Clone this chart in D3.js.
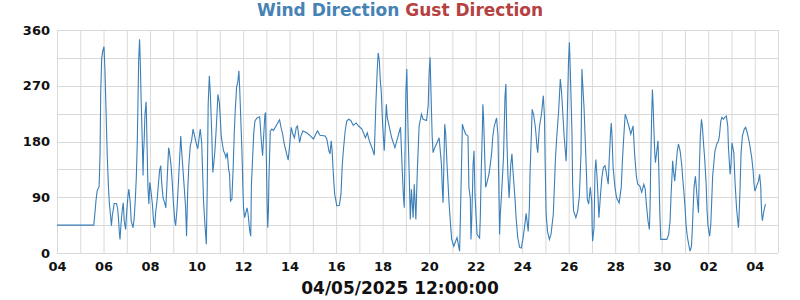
<!DOCTYPE html>
<html>
<head>
<meta charset="utf-8">
<script src="https://cdn.jsdelivr.net/npm/d3@7"></script>
<style>
  body { margin: 0; background: #fff; }
  text { font-family: "DejaVu Sans", sans-serif; font-weight: bold; }
</style>
</head>
<body>
<div id="chart"></div>
<script>
// time of each reading, in days after 04/04/2025 00:00
const dayOffset = [
  0.00, 1.58, 1.62, 1.68, 1.73, 1.81, 1.85, 1.88, 1.92, 1.96, 2.02, 2.06, 2.11, 2.16, 2.21, 2.25, 2.31, 2.34, 2.38, 2.44,
  2.46, 2.56, 2.61, 2.65, 2.68, 2.71, 2.75, 2.81, 2.85, 2.89, 2.95, 2.99, 3.05, 3.09, 3.15, 3.19, 3.27, 3.32, 3.37, 3.41,
  3.45, 3.48, 3.51, 3.55, 3.58, 3.62, 3.67, 3.70, 3.72, 3.75, 3.78, 3.83, 3.85, 3.88, 3.91, 3.95, 3.99, 4.04, 4.10, 4.15,
  4.20, 4.24, 4.30, 4.36, 4.41, 4.46, 4.50, 4.56, 4.63, 4.68, 4.74, 4.80, 4.84, 4.90, 4.96, 5.00, 5.06, 5.10, 5.16, 5.21,
  5.27, 5.32, 5.36, 5.42, 5.47, 5.53, 5.57, 5.62, 5.67, 5.73, 5.79, 5.85, 5.90, 5.96, 6.05, 6.16, 6.22, 6.26, 6.30, 6.35,
  6.38, 6.42, 6.46, 6.50, 6.55, 6.59, 6.65, 6.70, 6.75, 6.79, 6.85, 6.92, 6.98, 7.02, 7.06, 7.11, 7.16, 7.22, 7.26, 7.32,
  7.38, 7.42, 7.46, 7.52, 7.58, 7.62, 7.66, 7.72, 7.78, 7.82, 7.85, 7.89, 7.94, 7.97, 7.99, 8.02, 8.07, 8.12, 8.17, 8.21,
  8.28, 8.33, 8.36, 8.46, 8.51, 8.60, 8.71, 8.74, 8.77, 8.81, 8.84, 8.89, 8.94, 8.97, 9.03, 9.06, 9.09, 9.11, 9.17, 9.24,
  9.31, 9.46, 9.57, 9.63, 9.70, 9.77, 9.86, 9.94, 10.00, 10.07, 10.14, 10.21, 10.29, 10.34, 10.43, 10.49, 10.57, 10.74, 10.89, 11.03,
  11.13, 11.20, 11.31, 11.53, 11.60, 11.69, 11.74, 11.79, 11.83, 11.86, 11.90, 11.94, 12.03, 12.14, 12.21, 12.26, 12.31, 12.39, 12.46, 12.54,
  12.63, 12.74, 12.86, 12.97, 13.11, 13.26, 13.34, 13.43, 13.54, 13.64, 13.71, 13.77, 13.81, 13.86, 13.90, 13.94, 14.00, 14.07, 14.16, 14.20,
  14.29, 14.39, 14.53, 14.63, 14.77, 14.84, 14.89, 14.93, 15.00, 15.04, 15.10, 15.14, 15.19, 15.24, 15.31, 15.36, 15.43, 15.49, 15.57, 15.67,
  15.74, 15.89, 15.96, 16.00, 16.04, 16.13, 16.17, 16.24, 16.34, 16.43, 16.53, 16.57, 16.60, 16.67, 16.71, 16.77, 16.86, 16.93, 16.97, 17.06,
  17.14, 17.20, 17.31, 17.34, 17.40, 17.43, 17.49, 17.57, 17.67, 17.71, 17.77, 17.80, 17.83, 17.86, 17.89, 17.93, 17.97, 18.06, 18.17, 18.20,
  18.24, 18.29, 18.31, 18.34, 18.43, 18.49, 18.57, 18.63, 18.69, 18.74, 18.80, 18.90, 18.96, 18.99, 19.03, 19.06, 19.11, 19.20, 19.26, 19.30,
  19.34, 19.39, 19.44, 19.51, 19.56, 19.60, 19.69, 19.74, 19.81, 19.89, 19.96, 20.03, 20.10, 20.17, 20.26, 20.31, 20.34, 20.40, 20.43, 20.49,
  20.57, 20.64, 20.67, 20.74, 20.83, 20.91, 20.96, 20.99, 21.03, 21.09, 21.17, 21.24, 21.34, 21.43, 21.49, 21.57, 21.64, 21.69, 21.81, 21.89,
  21.91, 21.99, 22.03, 22.07, 22.14, 22.17, 22.21, 22.31, 22.39, 22.46, 22.53, 22.57, 22.60, 22.66, 22.74, 22.80, 22.86, 22.93, 22.99, 23.01,
  23.03, 23.09, 23.13, 23.17, 23.23, 23.30, 23.37, 23.43, 23.49, 23.56, 23.63, 23.70, 23.74, 23.80, 23.83, 23.86, 23.91, 23.99, 24.06, 24.17,
  24.26, 24.31, 24.37, 24.43, 24.50, 24.60, 24.67, 24.77, 24.84, 24.91, 24.97, 25.06, 25.14, 25.23, 25.29, 25.34, 25.41, 25.47, 25.50, 25.53,
  25.57, 25.60, 25.63, 25.66, 25.70, 25.73, 25.79, 25.84, 25.87, 25.92, 25.96, 26.22, 26.30, 26.36, 26.40, 26.45, 26.47, 26.50, 26.56, 26.62,
  26.67, 26.72, 26.79, 26.86, 26.90, 26.95, 26.99, 27.05, 27.10, 27.16, 27.22, 27.28, 27.32, 27.35, 27.39, 27.45, 27.51, 27.58, 27.62, 27.66,
  27.71, 27.75, 27.79, 27.85, 27.91, 27.95, 27.99, 28.06, 28.11, 28.15, 28.19, 28.25, 28.29, 28.37, 28.44, 28.48, 28.54, 28.59, 28.65, 28.71,
  28.78, 28.84, 28.87, 28.94, 28.98, 29.02, 29.10, 29.15, 29.22, 29.30, 29.32, 29.37, 29.41, 29.47, 29.55, 29.61, 29.68, 29.77, 29.87, 29.93,
  29.97, 30.01, 30.08, 30.16, 30.21, 30.26, 30.27, 30.30, 30.33, 30.37, 30.41, 30.46
];

// wind direction in degrees
const windDir = [
  45, 45, 60, 86, 101, 107, 158, 259, 313, 325, 333, 297, 228, 157, 108, 81, 57, 44, 61, 75,
  80, 80, 71, 52, 33, 22, 46, 71, 81, 52, 38, 63, 92, 103, 81, 52, 41, 57, 89, 122,
  176, 240, 310, 345, 310, 244, 176, 125, 160, 184, 222, 244, 216, 160, 106, 79, 114, 100, 79, 52,
  41, 65, 84, 111, 133, 141, 114, 89, 81, 73, 122, 170, 162, 143, 111, 84, 54, 44, 71, 106,
  151, 189, 165, 133, 106, 73, 27, 100, 143, 173, 182, 200, 192, 181, 168, 200, 178, 133, 84, 52,
  35, 14, 106, 240, 286, 259, 197, 130, 148, 165, 203, 256, 243, 219, 189, 176, 165, 160, 154, 162,
  135, 127, 84, 87, 143, 192, 227, 267, 278, 294, 270, 230, 176, 138, 106, 73, 57, 65, 73, 65,
  38, 27, 111, 194, 213, 218, 220, 208, 189, 170, 157, 192, 224, 227, 87, 41, 68, 116, 197, 200,
  198, 208, 215, 203, 192, 176, 162, 150, 173, 203, 192, 186, 203, 205, 178, 189, 197, 194, 189, 184,
  192, 197, 190, 189, 184, 165, 160, 181, 165, 143, 116, 95, 76, 77, 95, 138, 165, 197, 213, 216,
  214, 206, 210, 205, 200, 186, 194, 181, 170, 158, 240, 297, 323, 310, 278, 262, 208, 165, 240, 219,
  203, 186, 170, 184, 203, 138, 95, 73, 259, 297, 186, 133, 54, 103, 57, 111, 54, 130, 205, 224,
  216, 214, 238, 291, 316, 189, 162, 170, 178, 186, 143, 100, 81, 208, 194, 143, 79, 41, 22, 11,
  19, 25, 3, 52, 154, 208, 200, 192, 189, 106, 89, 22, 52, 95, 143, 165, 95, 30, 24, 57,
  130, 203, 240, 219, 106, 114, 127, 143, 162, 189, 205, 218, 189, 124, 30, 63, 92, 157, 251, 273,
  186, 124, 89, 143, 160, 135, 89, 57, 25, 9, 8, 22, 41, 64, 35, 73, 130, 197, 232, 224,
  203, 170, 162, 203, 224, 254, 219, 143, 63, 35, 22, 30, 63, 151, 189, 230, 281, 262, 186, 148,
  170, 305, 340, 294, 197, 111, 68, 57, 68, 92, 160, 297, 275, 235, 154, 87, 79, 106, 84, 41,
  19, 41, 130, 151, 116, 57, 95, 122, 138, 141, 127, 111, 148, 194, 210, 192, 138, 106, 89, 81,
  106, 148, 189, 224, 216, 203, 192, 205, 157, 124, 111, 108, 98, 111, 103, 79, 52, 38, 76, 149,
  224, 264, 240, 203, 162, 146, 165, 181, 143, 63, 22, 22, 30, 52, 92, 130, 149, 135, 116, 143,
  165, 176, 165, 143, 122, 100, 81, 44, 27, 14, 3, 11, 41, 71, 106, 124, 95, 65, 138, 189,
  216, 203, 181, 151, 111, 68, 44, 27, 46, 84, 124, 149, 165, 176, 181, 189, 213, 219, 216, 219,
  221, 205, 170, 127, 143, 178, 162, 116, 71, 41, 54, 106, 160, 189, 200, 203, 194, 178, 154, 133,
  111, 100, 108, 116, 127, 106, 89, 63, 52, 63, 71, 79
];

const yTicks = [0, 90, 180, 270, 360];
const titleParts = [
  { text: "Wind Direction", color: "#4682b4" },
  { text: " Gust Direction", color: "#b54141" }
];
const timeLabel = "04/05/2025 12:00:00";

const width = 800, height = 300;
const margin = { top: 30, right: 22, bottom: 47, left: 57 };

const start = new Date(2025, 3, 4);
const end = new Date(2025, 4, 5);

const data = dayOffset.map((d, i) => ({
    date: new Date(start.getTime() + d * 864e5),
    dir: windDir[i]
}));

const svg = d3.select("#chart").append("svg")
    .attr("width", width)
    .attr("height", height);

const x = d3.scaleTime()
    .domain([start, end])
    .range([margin.left, width - margin.right]);

const y = d3.scaleLinear()
    .domain([0, 360])
    .range([height - margin.bottom, margin.top]);

// grid: a line every day, every 45 degrees
const days = d3.timeDay.range(start, d3.timeDay.offset(end, 1));
svg.append("g")
    .selectAll("line")
    .data(days)
    .enter().append("line")
    .attr("x1", d => x(d) + 0.5)
    .attr("x2", d => x(d) + 0.5)
    .attr("y1", y(360))
    .attr("y2", y(0))
    .attr("stroke", "#d9d9d9");

svg.append("g")
    .selectAll("line")
    .data(d3.range(0, 361, 45))
    .enter().append("line")
    .attr("x1", x(start))
    .attr("x2", x(end))
    .attr("y1", d => Math.round(y(d)) + 0.5)
    .attr("y2", d => Math.round(y(d)) + 0.5)
    .attr("stroke", "#d9d9d9");

// axes
const xAxis = d3.axisBottom(x)
    .tickValues(days.filter((d, i) => i % 2 === 0 && d <= end))
    .tickFormat(d3.timeFormat("%d"))
    .tickSize(0)
    .tickPadding(9);

svg.append("g")
    .attr("transform", `translate(0,${height - margin.bottom})`)
    .call(xAxis)
    .call(g => g.select(".domain").remove())
    .selectAll("text")
    .attr("font-size", 13)
    .attr("fill", "#111");

const yAxis = d3.axisLeft(y)
    .tickValues(yTicks)
    .tickSize(0)
    .tickPadding(7);

svg.append("g")
    .attr("transform", `translate(${margin.left},0)`)
    .call(yAxis)
    .call(g => g.select(".domain").remove())
    .selectAll("text")
    .attr("font-size", 13)
    .attr("fill", "#111");

// wind direction line
const line = d3.line()
    .x(d => x(d.date))
    .y(d => y(d.dir));

svg.append("path")
    .datum(data)
    .attr("fill", "none")
    .attr("stroke", "#3a7fb8")
    .attr("stroke-width", 1.1)
    .attr("d", line);

// title
const title = svg.append("text")
    .attr("x", width / 2)
    .attr("y", 16)
    .attr("text-anchor", "middle")
    .attr("font-size", 17);

title.selectAll("tspan")
    .data(titleParts)
    .enter().append("tspan")
    .attr("fill", d => d.color)
    .style("white-space", "pre")
    .text(d => d.text);

svg.append("text")
    .attr("x", width / 2)
    .attr("y", 294)
    .attr("text-anchor", "middle")
    .attr("font-size", 17)
    .attr("fill", "#111")
    .text(timeLabel);
</script>
</body>
</html>
